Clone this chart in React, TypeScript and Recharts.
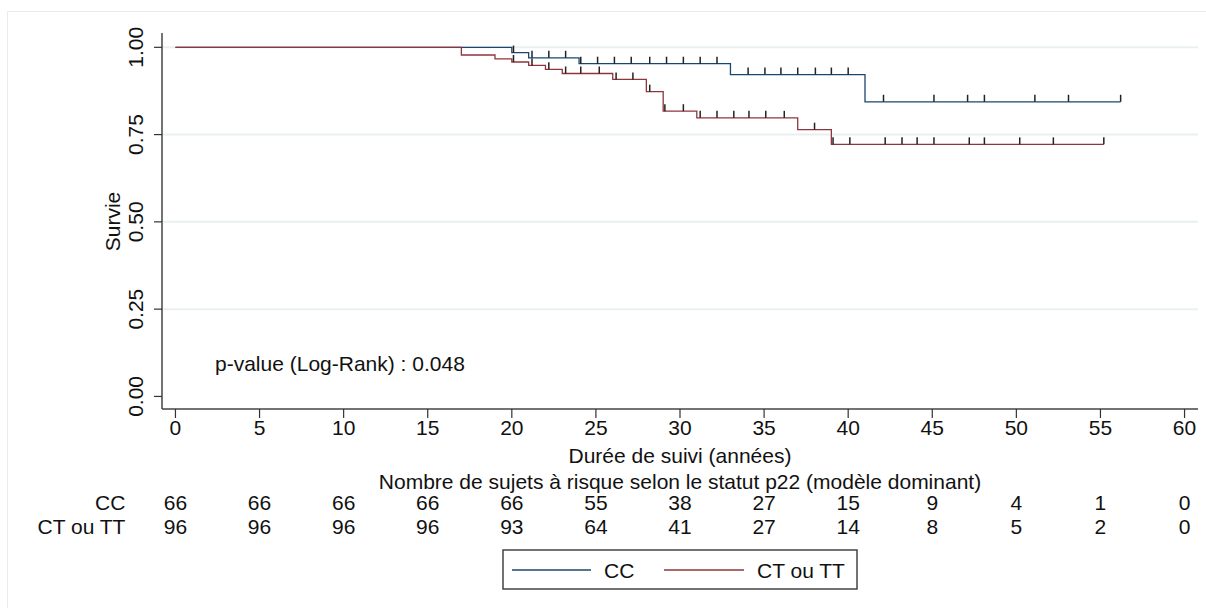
import React from "react";
import {
  ComposedChart,
  Line,
  Scatter,
  XAxis,
  YAxis,
  ReferenceLine,
  Customized,
} from "recharts";

const FONT = '"Liberation Sans", Arial, Helvetica, sans-serif';
const FS = 21;
const BLUE = "#1a476f";
const RED = "#90353b";
const INK = "#111";

// Kaplan-Meier step curves (time in years, survival probability)
const ccTimes = [0, 20, 21, 24, 33, 41, 56.2];
const ccSurv = [1, 0.985, 0.97, 0.953, 0.922, 0.844, 0.844];
const ctTimes = [0, 17, 19, 20, 21, 22, 23, 26, 28, 29, 31, 37, 39, 55.2];
const ctSurv = [1, 0.978, 0.967, 0.958, 0.948, 0.937, 0.925, 0.908, 0.873, 0.817, 0.798, 0.764, 0.722, 0.722];

// Censored observations
const ccCensorTimes = [
  20.1, 21.2, 22.2, 23.2, 24.1, 25.1, 26.1, 27.1, 28.2, 29.2, 30.2, 31.2, 32.2,
  34.05, 35.05, 36.0, 37.0, 38.05, 39.0, 40.0, 42.1, 45.1, 47.1, 48.1, 51.1, 53.1, 56.2,
];
const ccCensorSurv = [
  0.985, 0.97, 0.97, 0.97, 0.953, 0.953, 0.953, 0.953, 0.953, 0.953, 0.953, 0.953, 0.953,
  0.922, 0.922, 0.922, 0.922, 0.922, 0.922, 0.922, 0.844, 0.844, 0.844, 0.844, 0.844, 0.844, 0.844,
];
const ctCensorTimes = [
  20.1, 21.2, 22.2, 23.2, 24.1, 25.2, 26.2, 27.2, 28.2, 29.1, 30.2, 31.2, 32.2, 33.2,
  34.1, 35.1, 36.2, 38.0, 39.1, 40.1, 42.2, 43.2, 44.1, 45.1, 47.2, 48.1, 50.2, 52.2, 55.2,
];
const ctCensorSurv = [
  0.958, 0.948, 0.937, 0.925, 0.925, 0.925, 0.908, 0.908, 0.873, 0.817, 0.817, 0.798, 0.798, 0.798,
  0.798, 0.798, 0.798, 0.764, 0.722, 0.722, 0.722, 0.722, 0.722, 0.722, 0.722, 0.722, 0.722, 0.722, 0.722,
];

// Number at risk table
const riskTimes = [0, 5, 10, 15, 20, 25, 30, 35, 40, 45, 50, 55, 60];
const atRiskCC = [66, 66, 66, 66, 66, 55, 38, 27, 15, 9, 4, 1, 0];
const atRiskCT = [96, 96, 96, 96, 93, 64, 41, 27, 14, 8, 5, 2, 0];

const yTicks = [0, 0.25, 0.5, 0.75, 1];
const gridValues = [0.25, 0.5, 0.75, 1];

const groupLabels = ["CC", "CT ou TT"];

const zip = (t: number[], s: number[]) => t.map((v, i) => ({ t: v, s: s[i] }));
const ccCurve = zip(ccTimes, ccSurv);
const ctCurve = zip(ctTimes, ctSurv);
const ccCensor = zip(ccCensorTimes, ccCensorSurv);
const ctCensor = zip(ctCensorTimes, ctCensorSurv);

const CensorMark = (props: any) => {
  const { cx, cy } = props;
  if (cx == null || cy == null) return null;
  return <line x1={cx} x2={cx} y1={cy} y2={cy - 7} stroke="#222" strokeWidth={1.5} />;
};

const XTick = (props: any) => {
  const { x, y, payload, index } = props;
  const i = riskTimes.indexOf(payload.value);
  return (
    <g fontFamily={FONT} fontSize={FS} fill={INK}>
      <text x={x} y={y + 7} textAnchor="middle" dominantBaseline="central" fill={INK}>
        {payload.value}
      </text>
      <text x={x} y={y + 82} textAnchor="middle" dominantBaseline="central" fill={INK}>
        {atRiskCC[i]}
      </text>
      <text x={x} y={y + 106} textAnchor="middle" dominantBaseline="central" fill={INK}>
        {atRiskCT[i]}
      </text>
      {index === 0 ? (
        <>
          <text x={x - 50} y={y + 82} textAnchor="end" dominantBaseline="central" fill={INK}>
            {groupLabels[0]}
          </text>
          <text x={x - 50} y={y + 106} textAnchor="end" dominantBaseline="central" fill={INK}>
            {groupLabels[1]}
          </text>
        </>
      ) : null}
    </g>
  );
};

const YTick = (props: any) => {
  const { x, y, payload } = props;
  const cx = x - 16;
  return (
    <text
      x={cx}
      y={y}
      transform={`rotate(-90 ${cx} ${y})`}
      textAnchor="middle"
      dominantBaseline="central"
      fontFamily={FONT}
      fontSize={FS}
      fill={INK}
    >
      {Number(payload.value).toFixed(2)}
    </text>
  );
};

const Annotations = () => (
  <g fontFamily={FONT} fontSize={FS} fill={INK}>
    {/* light frame of the graph region */}
    <path d="M7.5 608 L7.5 11.5 L1206 11.5" fill="none" stroke="#e6ebeb" strokeWidth={1} />
    <text x={112.5} y={221.5} transform="rotate(-90 112.5 221.5)" textAnchor="middle" dominantBaseline="central">
      Survie
    </text>
    <text x={215} y={363} dominantBaseline="central">
      p-value (Log-Rank) : 0.048
    </text>
    <text x={680} y={455} textAnchor="middle" dominantBaseline="central">
      Durée de suivi (années)
    </text>
    <text x={680} y={481} textAnchor="middle" dominantBaseline="central">
      Nombre de sujets à risque selon le statut p22 (modèle dominant)
    </text>
    {/* legend */}
    <rect x={503} y={550} width={354} height={39} fill="#fff" stroke="#444" strokeWidth={1.5} />
    <line x1={512} x2={591} y1={570} y2={570} stroke={BLUE} strokeWidth={1.3} />
    <text x={604} y={570} dominantBaseline="central">
      {groupLabels[0]}
    </text>
    <line x1={664} x2={744} y1={570} y2={570} stroke={RED} strokeWidth={1.3} />
    <text x={757} y={570} dominantBaseline="central">
      {groupLabels[1]}
    </text>
  </g>
);

export default function App() {
  return (
    <div style={{ position: "absolute", left: 0, top: 0, width: 1206, height: 608, background: "#fff" }}>
      <ComposedChart
        width={1206}
        height={608}
        margin={{ top: 33, right: 8, bottom: 169, left: 0 }}
      >
        <XAxis
          dataKey="t"
          type="number"
          domain={[-0.8, 60.8]}
          allowDataOverflow
          ticks={riskTimes}
          interval={0}
          tickSize={9}
          tickMargin={2}
          height={30}
          stroke="#444"
          strokeWidth={1.5}
          tickLine={{ stroke: "#333", strokeWidth: 1.2 }}
          tick={<XTick />}
        />
        <YAxis
          type="number"
          domain={[-0.036, 1.041]}
          allowDataOverflow
          ticks={yTicks}
          interval={0}
          width={162}
          tickSize={8}
          tickMargin={2}
          stroke="#444"
          strokeWidth={1.5}
          tickLine={{ stroke: "#333", strokeWidth: 1.2 }}
          tick={<YTick />}
        />
        {gridValues.map((v) => (
          <ReferenceLine key={v} y={v} stroke="#eaf0f2" strokeWidth={2} />
        ))}
        <Line
          data={ccCurve}
          dataKey="s"
          type="stepAfter"
          stroke={BLUE}
          strokeWidth={1.3}
          dot={false}
          activeDot={false}
          isAnimationActive={false}
        />
        <Line
          data={ctCurve}
          dataKey="s"
          type="stepAfter"
          stroke={RED}
          strokeWidth={1.3}
          dot={false}
          activeDot={false}
          isAnimationActive={false}
        />
        <Scatter data={ccCensor} dataKey="s" shape={<CensorMark />} isAnimationActive={false} />
        <Scatter data={ctCensor} dataKey="s" shape={<CensorMark />} isAnimationActive={false} />
        <Customized component={Annotations} />
      </ComposedChart>
    </div>
  );
}
